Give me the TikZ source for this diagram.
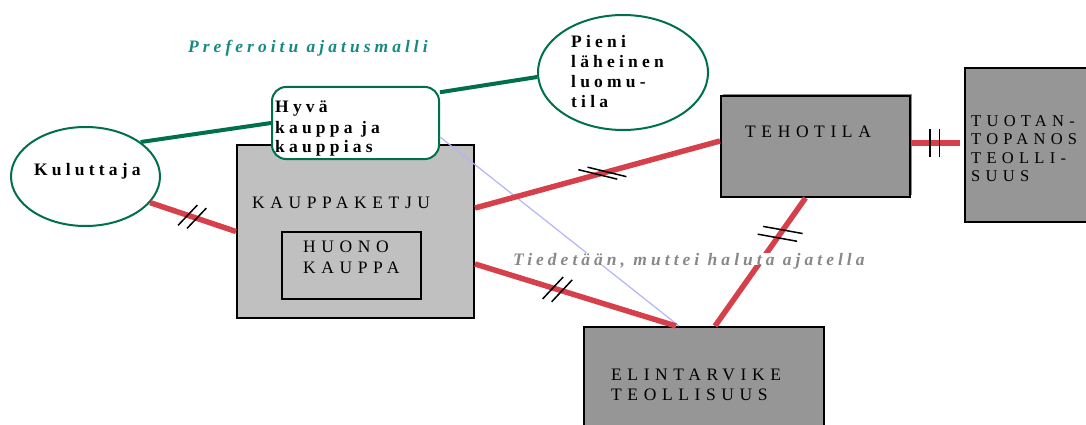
\documentclass[tikz,border=0pt]{standalone}
\usepackage{fontspec}
\setmainfont{Liberation Serif}
\newfontfamily\capsfont[LetterSpace=32]{Liberation Serif}
\newfontfamily\boldfont[LetterSpace=24]{Liberation Serif}
\newfontfamily\notefont[LetterSpace=23]{Liberation Serif}
\usetikzlibrary{shapes.geometric,shadows,decorations.markings}
\definecolor{linkred}{RGB}{214,64,74}
\definecolor{linkgreen}{RGB}{0,112,72}
\definecolor{noteteal}{RGB}{22,138,128}
\definecolor{notegray}{RGB}{136,136,136}
\definecolor{chaingray}{RGB}{192,192,192}
\definecolor{boxgray}{RGB}{150,150,150}
\definecolor{bluelink}{RGB}{180,180,250}
\begin{document}
\begin{tikzpicture}[x=1pt,y=-1pt,
  box/.style={draw=black, line width=2pt, inner sep=0},
  chain/.style={box, fill=chaingray},
  maker/.style={box, fill=boxgray},
  bubble/.style={ellipse, draw=linkgreen, line width=2pt, fill=white, inner sep=0},
  txt/.style={inner sep=0, anchor=base west, align=left},
  caps/.style={txt, font=\capsfont\fontsize{17.5}{#1}\selectfont},
  bold/.style={txt, font=\boldfont\bfseries\fontsize{17.5}{#1}\selectfont},
  note/.style={txt, font=\notefont\bfseries\itshape\fontsize{17.5}{20}\selectfont},
  redlink/.style={draw=linkred, line width=5.5pt},
  greenlink/.style={draw=linkgreen, line width=4pt},
  tickmark/.style={draw=black, line width=1.5pt},
  ticks/.style args={#1/#2/#3}{postaction={decorate}, decoration={markings,
    mark=at position #2 with {\draw[tickmark] (-4.75pt,0) ++(#1:-#3pt) -- ++(#1:2*#3pt)
      (4.75pt,0) ++(#1:-#3pt) -- ++(#1:2*#3pt);}}}]
\clip (0,0) rectangle (1086,425);

% boxes
\node[chain, minimum width=237pt, minimum height=173pt] (kauppaketju) at (355.5,231.5) {};
\node[box, minimum width=139pt, minimum height=67pt] (huono) at (351.5,265.5) {};
\node[maker, minimum width=189pt, minimum height=101pt,
  general shadow={fill=black!45, shadow xshift=2pt, shadow yshift=2pt}] (tehotila) at (815.5,146.5) {};
\node[maker, minimum width=135pt, minimum height=154pt] (tuotanto) at (1032.5,145) {};
\node[maker, minimum width=240pt, minimum height=118pt] (elintarvike) at (704,386) {};

% bubbles
\node[bubble, minimum width=149pt, minimum height=99pt] (kuluttaja) at (85.5,176.5) {};
\node[bubble, minimum width=170pt, minimum height=115pt] (pieni) at (623,72.5) {};
\node[draw=linkgreen, line width=2pt, fill=white, rounded corners=14pt,
  minimum width=167pt, minimum height=72pt] (hyva) at (355.5,123) {};

% texts (multi-line ones sit on their last baseline)
\node[note, text=noteteal] (preferoitu) at (188,53) {Preferoitu ajatusmalli};
\node[bold=20] (kuluttajatxt) at (34,175) {Kuluttaja};
\node[bold=20] (hyvatxt) at (275,153) {Hyvä\\kauppa ja\\kauppias};
\node[bold=20.3] (pienitxt) at (571,108) {Pieni\\läheinen\\luomu-\\tila};
\node[caps=20] (kauppaketjutxt) at (252,208) {KAUPPAKETJU};
\node[caps=21] (huonotxt) at (303,273) {HUONO\\KAUPPA};
\node[caps=20] (tehotilatxt) at (745,137) {TEHOTILA};
\node[txt, font=\capsfont\fontsize{16.5}{18.5}\selectfont] (tuotantotxt) at (971,181.5) {TUOTAN-\\TOPANOS\\TEOLLI-\\SUUS};
\node[caps=20] (elintarviketxt) at (611,400) {ELINTARVIKE\\TEOLLISUUS};

% links
\draw[greenlink] (kuluttaja.32) -- (hyva.west);
\draw[greenlink] (hyva.20) -- (pieni.183);
\draw[bluelink, line width=1.2pt] ([yshift=-14pt]hyva.east) -- ([xshift=-25pt]elintarvike.north);
\draw[redlink, ticks=65/0.49/14] (kuluttaja.-22) -- (kauppaketju.west);
\draw[redlink, ticks=-29/0.52/20] ([yshift=23.5pt]kauppaketju.east) -- ([yshift=5.5pt]tehotila.west);
\draw[redlink, ticks=64/0.41/15] ([yshift=-32.5pt]kauppaketju.east) -- ([xshift=-28pt]elintarvike.north);
\draw[redlink, ticks=-65/0.72/20] ([xshift=11pt]elintarvike.north) -- ([xshift=-10pt]tehotila.south);
\draw[redlink, ticks=90/0.48/14] ([yshift=3.5pt]tehotila.east) -- ([xshift=-4pt,yshift=2pt]tuotanto.west);

% this one covers the links below it
\node[note, text=notegray, fill=white, text depth=0pt] (tiedetaan) at (513,265) {Tiedetään, muttei haluta ajatella};
\end{tikzpicture}
\end{document}
